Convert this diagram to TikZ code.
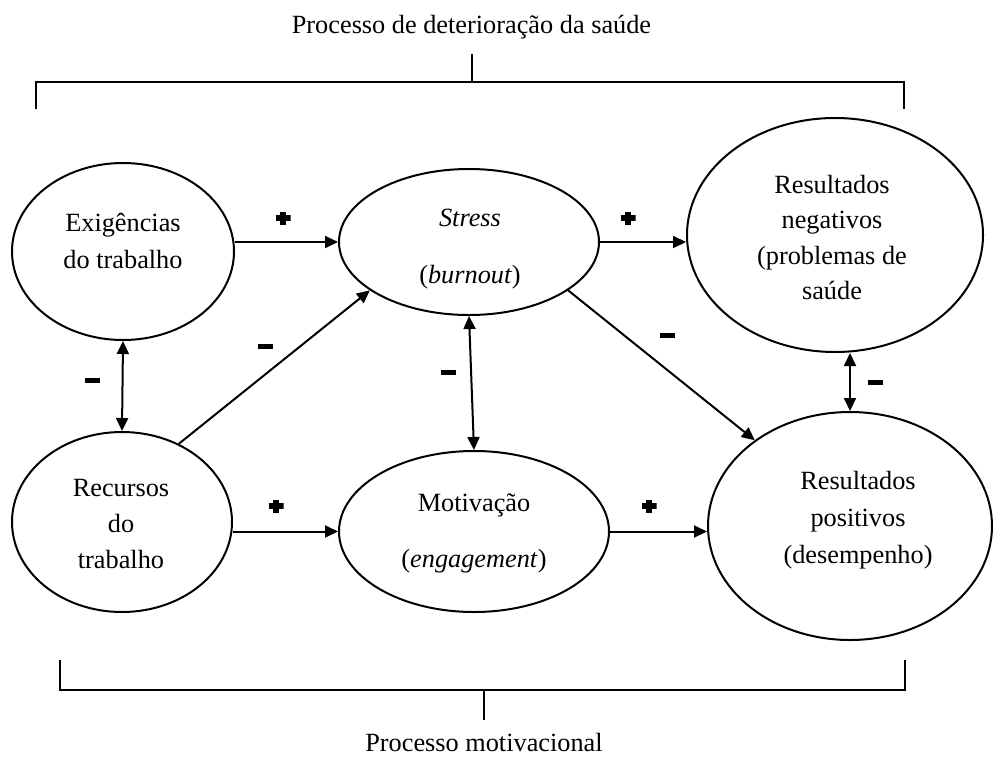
\documentclass[tikz,border=0pt]{standalone}
\usepackage{fontspec}
\setmainfont{Liberation Serif}
\usetikzlibrary{arrows.meta,shapes.geometric}
\begin{document}
\begin{tikzpicture}[x=1pt,y=-1pt,
  ell/.style={ellipse, draw, line width=2pt, inner sep=0pt},
  txt/.style={anchor=base, inner sep=0pt, font=\fontsize{26.3}{37}\selectfont},
  arr/.style={line width=2pt, -{Triangle[length=13pt,width=12pt]}},
  darr/.style={line width=2pt, {Triangle[length=13pt,width=12pt]}-{Triangle[length=13pt,width=12pt]}},
  brk/.style={line width=2pt},
  plusmark/.style={rectangle, inner sep=0pt, minimum width=15pt, minimum height=13pt,
    path picture={
      \fill[black] ([yshift=-2.6pt]path picture bounding box.west) rectangle ([yshift=2.6pt]path picture bounding box.east);
      \fill[black] ([xshift=-2.6pt]path picture bounding box.south) rectangle ([xshift=2.6pt]path picture bounding box.north);}},
  minusmark/.style={rectangle, fill=black, inner sep=0pt, minimum width=15pt, minimum height=5pt}]
\useasboundingbox (0,0) rectangle (993,758);

% titles and brackets
\node[txt] (toptitle) at (471.5,33) {Processo de deterioração da saúde};
\node[txt] (bottitle) at (484,751) {Processo motivacional};

\coordinate (tstem) at (472,54);
\coordinate (tmid) at (472,82);
\coordinate (tl) at (36,109);
\coordinate (tr) at (904,109);
\draw[brk] (tl) -- (tl |- tmid) -- (tr |- tmid) -- (tr);
\draw[brk] (tstem) -- (tmid);

\coordinate (bstem) at (484,720);
\coordinate (bmid) at (484,690);
\coordinate (bl) at (60,660);
\coordinate (br) at (905,660);
\draw[brk] (bl) -- (bl |- bmid) -- (br |- bmid) -- (br);
\draw[brk] (bstem) -- (bmid);

% ellipses
\node[ell, minimum width=222pt, minimum height=177pt] (exig) at (123,251.5) {};
\node[ell, minimum width=260pt, minimum height=146pt] (stress) at (469,242) {};
\node[ell, minimum width=296pt, minimum height=234pt] (resneg) at (835,235) {};
\node[ell, minimum width=220pt, minimum height=180pt] (recursos) at (122,522) {};
\node[ell, minimum width=270pt, minimum height=161pt] (motiv) at (474,531.5) {};
\node[ell, minimum width=284pt, minimum height=228pt] (respos) at (850,526) {};

% texts
\node[txt] (exig1) at (123,231) {Exigências};
\node[txt] (exig2) at (123,268) {do trabalho};
\node[txt] (stress1) at (470,226) {\textit{Stress}};
\node[txt] (stress2) at (470,283) {(\textit{burnout})};
\node[txt] (resneg1) at (832,193) {Resultados};
\node[txt] (resneg2) at (832,228.5) {negativos};
\node[txt] (resneg3) at (832,264) {(problemas de};
\node[txt] (resneg4) at (832,299.5) {saúde};
\node[txt] (rec1) at (121,496) {Recursos};
\node[txt] (rec2) at (121,532) {do};
\node[txt] (rec3) at (121,568) {trabalho};
\node[txt] (mot1) at (474,511) {Motivação};
\node[txt] (mot2) at (474,567) {(\textit{engagement})};
\node[txt] (respos1) at (858,489) {Resultados};
\node[txt] (respos2) at (858,526) {positivos};
\node[txt] (respos3) at (858,563) {(desempenho)};

% connectors
\draw[arr] (exig.east |- stress.west) -- (stress.west);
\draw[arr] (stress.east) -- (stress.east -| resneg.west);
\draw[arr] (recursos.east |- motiv.west) -- (motiv.west);
\draw[arr] (motiv.east) -- (motiv.east -| respos.west);
\draw[darr] (exig.south) -- (recursos.north);
\draw[arr] (recursos.54) -- (stress.206);
\draw[darr] (stress.south) -- (motiv.north);
\draw[arr] (stress.334) -- (respos.138);
\draw[darr] (respos.north |- resneg.south) -- (respos.north);

% signs
\node[plusmark] (p1) at (283,218) {};
\node[plusmark] (p2) at (628,218) {};
\node[plusmark] (p3) at (276,506) {};
\node[plusmark] (p4) at (649,506) {};
\node[minusmark] (m1) at (92,380) {};
\node[minusmark] (m2) at (265,346) {};
\node[minusmark] (m3) at (448,372) {};
\node[minusmark] (m4) at (667,335) {};
\node[minusmark] (m5) at (875,382) {};
\end{tikzpicture}
\end{document}
